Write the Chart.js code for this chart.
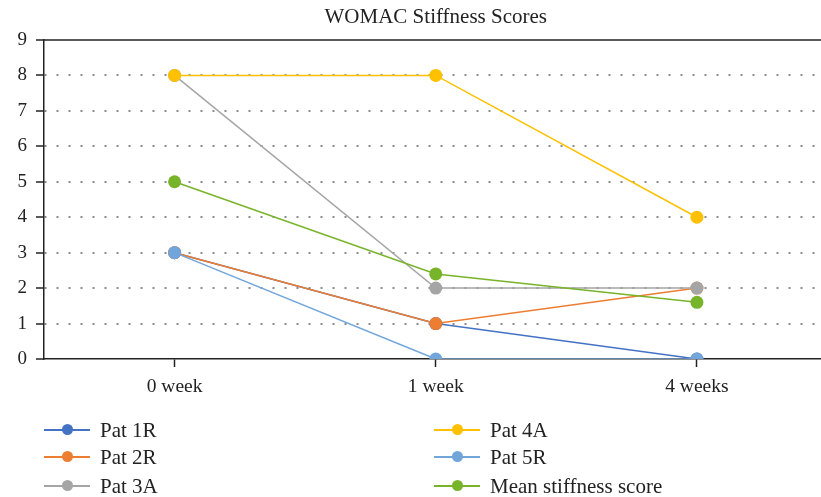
<!DOCTYPE html>
<html>
<head>
<meta charset="utf-8">
<script src="https://cdn.jsdelivr.net/npm/chart.js@4/dist/chart.umd.min.js"></script>
<style>
  html, body { margin: 0; padding: 0; background: #fff; overflow: hidden; width: 821px; height: 497px; }
  #wrap { position: relative; width: 840px; height: 497px; }
  #c { display: block; width: 840px; height: 497px; }
  #legend { position: absolute; left: 0; top: 0; width: 821px; height: 497px; pointer-events: none;
            font-family: "Liberation Serif", "Times New Roman", serif; font-size: 21px; color: #222; }
  .item { position: absolute; height: 20px; display: flex; align-items: center; white-space: nowrap; }
  .mk { position: relative; width: 46px; height: 20px; margin-right: 10px; }
  .mk .ln { position: absolute; left: 0; right: 0; top: 9px; height: 2px; }
  .mk .dot { position: absolute; left: 18px; top: 4px; width: 11px; height: 11px; border-radius: 50%; }
</style>
</head>
<body>
<div id="wrap">
  <canvas id="c" width="840" height="497"></canvas>
  <div id="legend"></div>
</div>
<script>
const categories = ["0 week", "1 week", "4 weeks"];
const seriesNames = ["Pat 1R", "Pat 2R", "Pat 3A", "Pat 4A", "Pat 5R", "Mean stiffness score"];
const pat1R = [3, 1, 0];
const pat2R = [3, 1, 2];
const pat3A = [8, 2, 2];
const pat4A = [8, 8, 4];
const pat5R = [3, 0, 0];
const meanScore = [5, 2.4, 1.6];
const yTicks = [0, 1, 2, 3, 4, 5, 6, 7, 8, 9];
const titleText = "WOMAC Stiffness Scores";

const colors = ["#4472C4", "#ED7D31", "#A5A5A5", "#FFC000", "#72A5D9", "#78B42A"];
const values = [pat1R, pat2R, pat3A, pat4A, pat5R, meanScore];

const datasets = seriesNames.map((name, i) => ({
  label: name,
  data: values[i],
  borderColor: colors[i],
  backgroundColor: colors[i],
  pointBackgroundColor: colors[i],
  pointBorderColor: colors[i],
  pointRadius: 6.5,
  pointBorderWidth: 0,
  borderWidth: 1.5,
  tension: 0,
  order: seriesNames.length - i
}));

const serif = "'Liberation Serif', 'Times New Roman', serif";

const topLinePlugin = {
  id: 'topLine',
  afterDraw(chart) {
    const ctx = chart.ctx, a = chart.chartArea;
    const y = chart.scales.y.getPixelForValue(yTicks[yTicks.length - 1]);
    ctx.save();
    ctx.strokeStyle = '#222';
    ctx.lineWidth = 1.5;
    ctx.beginPath();
    ctx.moveTo(a.left, y);
    ctx.lineTo(chart.width, y);
    ctx.stroke();
    ctx.fillStyle = '#222';
    ctx.font = "21px " + serif;
    ctx.textAlign = 'center';
    ctx.textBaseline = 'middle';
    ctx.fillText(titleText, (a.left + a.right) / 2, 17);
    ctx.restore();
  }
};

const chart = new Chart(document.getElementById('c'), {
  type: 'line',
  data: { labels: categories, datasets },
  options: {
    responsive: false,
    animation: false,
    devicePixelRatio: 1,
    layout: { padding: { top: 40, left: 0, right: 12.5, bottom: 0 } },
    plugins: { legend: { display: false }, title: { display: false }, tooltip: { enabled: false } },
    scales: {
      x: {
        type: 'category',
        offset: true,
        grid: { drawOnChartArea: false, drawTicks: true, tickLength: 8, tickColor: '#222', tickWidth: 1.5, offset: false },
        border: { display: true, color: '#222', width: 1.5 },
        ticks: { font: { family: serif, size: 19.5 }, color: '#222', padding: 8, maxRotation: 0 },
        afterFit(s) { s.height = 138; }
      },
      y: {
        min: 0, max: 9,
        afterBuildTicks(s) { s.ticks = yTicks.map(v => ({ value: v })); },
        grid: {
          color: ctx => (ctx.tick && (ctx.tick.value === 0 || ctx.tick.value === 9)) ? 'rgba(0,0,0,0)' : '#8c8c8c',
          lineWidth: 2,
          tickColor: '#222',
          tickWidth: 1.5,
          tickLength: 8,
          drawTicks: true
        },
        border: { display: true, color: '#222', width: 1.5, dash: [2, 10], dashOffset: -12 },
        ticks: { font: { family: serif, size: 19 }, color: '#222', padding: 9, stepSize: 1 },
        afterFit(s) { s.width = 44; }
      }
    }
  },
  plugins: [topLinePlugin]
});

// Column-ordered legend (two columns, three rows)
const legend = document.getElementById('legend');
const colX = [44, 434];
const rowY = [420, 447, 476];
seriesNames.forEach((name, i) => {
  const col = Math.floor(i / 3), row = i % 3;
  const d = document.createElement('div');
  d.className = 'item';
  d.style.left = colX[col] + 'px';
  d.style.top = rowY[row] + 'px';
  d.innerHTML = '<div class="mk"><div class="ln" style="background:' + colors[i] + '"></div><div class="dot" style="background:' + colors[i] + '"></div></div><span>' + name + '</span>';
  legend.appendChild(d);
});
</script>
</body>
</html>
